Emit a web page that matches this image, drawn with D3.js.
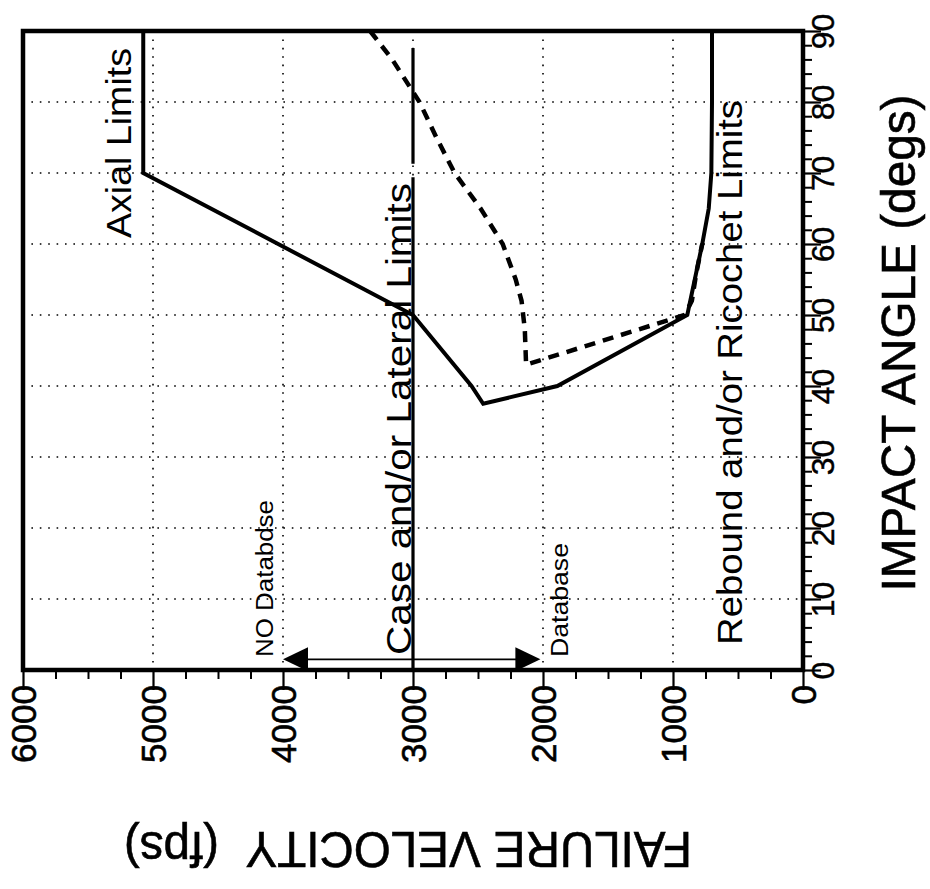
<!DOCTYPE html>
<html lang="en">
<head>
    <meta charset="UTF-8">
    <title>Failure velocity vs impact angle</title>
    <script src="https://d3js.org/d3.v7.min.js"></script>
    <style>
        body { margin: 0; background: #fff; }
        text { font-family: "Liberation Sans", Arial, sans-serif; fill: #000; }
    </style>
</head>
<body>
<div id="chart"></div>
<script>
    // data: [failure velocity (fps), impact angle (degs)]
    const limitCurve = [
        [5075, 90], [5075, 70], [3000, 50], [2550, 40], [2460, 37.5],
        [1890, 40], [890, 50], [775, 60], [725, 65], [705, 70], [700, 80], [700, 90]
    ];
    const dashedCurve = [
        [3330, 90], [3160, 86], [2950, 80], [2820, 75], [2680, 70], [2480, 65],
        [2310, 60], [2210, 55], [2165, 52], [2140, 48], [2130, 43],
        [910, 50], [855, 52], [820, 56], [775, 60]
    ];
    const caseLine = [[3000, 0], [3000, 69.4]];
    const caseLineTop = [[3000, 71.3], [3000, 87.6]];
    const arrowAngle = 1.5;
    const arrowTips = [4000, 2020];

    const velocityTicks = [6000, 5000, 4000, 3000, 2000, 1000, 0];
    const angleTicks = [0, 10, 20, 30, 40, 50, 60, 70, 80, 90];

    function drawChart(width, height) {
        const svg = d3.select("#chart").append("svg")
            .attr("width", width)
            .attr("height", height)
            .attr("viewBox", [0, 0, width, height]);

        const x = d3.scaleLinear().domain([6000, 0]).range([23, 803]);
        const y = d3.scaleLinear().domain([0, 90]).range([670, 31]);

        // dotted grid
        const grid = svg.append("g")
            .attr("stroke", "#000")
            .attr("stroke-width", 1.6)
            .attr("stroke-dasharray", "1.6,6.8");
        grid.selectAll(".gv")
            .data(velocityTicks.filter(d => d > 0 && d < 6000))
            .join("line")
            .attr("class", "gv")
            .attr("x1", d => x(d)).attr("x2", d => x(d))
            .attr("y1", y(90)).attr("y2", y(0));
        grid.selectAll(".gh")
            .data(angleTicks.filter(d => d > 0 && d < 90))
            .join("line")
            .attr("class", "gh")
            .attr("x1", x(6000)).attr("x2", x(0))
            .attr("y1", d => y(d)).attr("y2", d => y(d));

        // bottom axis: minor + major ticks
        const minorV = d3.range(0, 6001, 250).filter(d => d % 1000 !== 0);
        svg.append("g")
            .attr("transform", `translate(0,${y(0)})`)
            .call(d3.axisBottom(x).tickValues(minorV).tickSize(9).tickFormat(""))
            .call(g => g.select(".domain").remove())
            .call(g => g.selectAll("line").attr("stroke-width", 2));
        svg.append("g")
            .attr("transform", `translate(0,${y(0)})`)
            .call(d3.axisBottom(x).tickValues(velocityTicks).tickSize(20).tickFormat(d3.format("d")))
            .call(g => g.select(".domain").remove())
            .call(g => g.selectAll("line").attr("stroke-width", 2.2))
            .call(g => g.selectAll("text")
                .attr("transform", "rotate(-90)")
                .attr("x", -15)
                .attr("y", 0)
                .attr("dy", "0.36em")
                .attr("text-anchor", "end")
                .style("font-size", "35px")
                .style("stroke", "#000")
                .style("stroke-width", 0.6));

        // right axis
        const minorA = d3.range(0, 91, 2).filter(d => d % 10 !== 0);
        svg.append("g")
            .attr("transform", `translate(${x(0)},0)`)
            .call(d3.axisRight(y).tickValues(minorA).tickSize(9).tickFormat(""))
            .call(g => g.select(".domain").remove())
            .call(g => g.selectAll("line").attr("stroke-width", 2));
        svg.append("g")
            .attr("transform", `translate(${x(0)},0)`)
            .call(d3.axisRight(y).tickValues(angleTicks).tickSize(18))
            .call(g => g.select(".domain").remove())
            .call(g => g.selectAll("line").attr("stroke-width", 2.2))
            .call(g => g.selectAll("text")
                .attr("transform", "translate(31,0) rotate(-90)")
                .attr("x", 0)
                .attr("y", 0)
                .attr("dy", 0)
                .attr("text-anchor", "middle")
                .style("font-size", "32px")
                .style("stroke", "#000")
                .style("stroke-width", 0.4));

        // frame
        svg.append("rect")
            .attr("x", x(6000)).attr("y", y(90))
            .attr("width", x(0) - x(6000)).attr("height", y(0) - y(90))
            .attr("fill", "none")
            .attr("stroke", "#000")
            .attr("stroke-width", 4.5);

        const line = d3.line().x(d => x(d[0])).y(d => y(d[1]));

        svg.append("path")
            .attr("d", line(limitCurve))
            .attr("fill", "none")
            .attr("stroke", "#000")
            .attr("stroke-width", 4)
            .attr("stroke-linejoin", "miter");

        svg.append("path")
            .attr("d", line(dashedCurve))
            .attr("fill", "none")
            .attr("stroke", "#000")
            .attr("stroke-width", 4.5)
            .attr("stroke-dasharray", "11,8");

        svg.selectAll(".case")
            .data([caseLine, caseLineTop])
            .join("path")
            .attr("class", "case")
            .attr("d", line)
            .attr("fill", "none")
            .attr("stroke", "#000")
            .attr("stroke-width", 3.2);

        // database arrow
        const ay = y(arrowAngle);
        svg.append("line")
            .attr("x1", x(arrowTips[0]) + 20).attr("x2", x(arrowTips[1]) - 20)
            .attr("y1", ay).attr("y2", ay)
            .attr("stroke", "#000")
            .attr("stroke-width", 1.8);
        svg.selectAll(".head")
            .data(arrowTips)
            .join("path")
            .attr("class", "head")
            .attr("d", d => {
                const tx = x(d);
                const dir = d > 3000 ? 1 : -1;
                return `M${tx},${ay}L${tx + dir * 25},${ay - 12}L${tx + dir * 25},${ay + 12}Z`;
            })
            .attr("fill", "#000");

        // annotations, rotated to read bottom to top
        const notes = [
            {text: "Axial Limits", x: 131, y: 238, len: 190, size: 35},
            {text: "Case and/or Lateral Limits", x: 411, y: 655, len: 472, size: 35},
            {text: "Rebound and/or Ricochet Limits", x: 742, y: 645, len: 545, size: 35},
            {text: "NO Databdse", x: 273, y: 657, len: 157, size: 23},
            {text: "Database", x: 568, y: 657, len: 114, size: 23}
        ];
        svg.selectAll(".note")
            .data(notes)
            .join("text")
            .attr("class", "note")
            .attr("transform", d => `translate(${d.x},${d.y}) rotate(-90)`)
            .attr("textLength", d => d.len)
            .attr("lengthAdjust", "spacingAndGlyphs")
            .style("font-size", d => d.size + "px")
            .text(d => d.text);

        // axis titles
        svg.append("text")
            .attr("transform", "translate(915,343) rotate(-90)")
            .attr("text-anchor", "middle")
            .attr("textLength", 497)
            .attr("lengthAdjust", "spacingAndGlyphs")
            .style("font-size", "49px")
            .style("stroke", "#000")
            .style("stroke-width", 0.6)
            .text("IMPACT ANGLE (degs)");

        svg.append("text")
            .attr("transform", "translate(408,832) rotate(180)")
            .attr("text-anchor", "middle")
            .attr("textLength", 568)
            .attr("lengthAdjust", "spacingAndGlyphs")
            .style("font-size", "50px")
            .style("stroke", "#000")
            .style("stroke-width", 0.6)
            .text("FAILURE VELOCITY\u00a0\u00a0(fps)");

        return svg.node();
    }

    document.addEventListener('DOMContentLoaded', () => {
        drawChart(930, 889);
    });
</script>
</body>
</html>
